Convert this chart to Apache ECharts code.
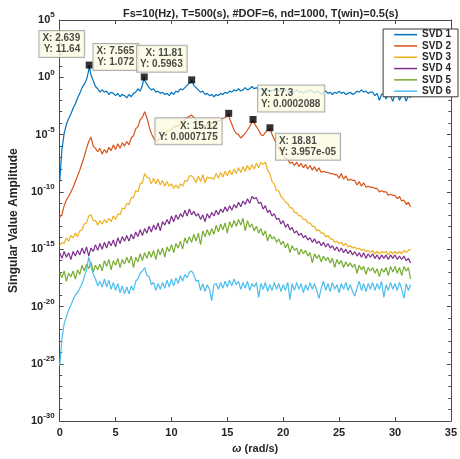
<!DOCTYPE html>
<html>
<head>
<meta charset="utf-8">
<script src="https://cdn.jsdelivr.net/npm/echarts@6/dist/echarts.min.js"></script>
<style>
  html, body { margin: 0; padding: 0; background: #fff; }
  #chart { width: 460px; height: 459px; }
</style>
</head>
<body>
<div id="chart"></div>
<script>
// Frequency grid (rad/s)
const omega = [
  0.0, 0.2, 0.4, 0.6, 0.8, 1.0, 1.2, 1.4, 1.6, 1.8,
  2.0, 2.2, 2.4, 2.6, 2.8, 3.0, 3.2, 3.4, 3.6, 3.8,
  4.0, 4.2, 4.4, 4.6, 4.8, 5.0, 5.2, 5.4, 5.6, 5.8,
  6.0, 6.2, 6.4, 6.6, 6.8, 7.0, 7.2, 7.4, 7.6, 7.8,
  8.0, 8.2, 8.4, 8.6, 8.8, 9.0, 9.2, 9.4, 9.6, 9.8,
  10.0, 10.2, 10.4, 10.6, 10.8, 11.0, 11.2, 11.4, 11.6, 11.8,
  12.0, 12.2, 12.4, 12.6, 12.8, 13.0, 13.2, 13.4, 13.6, 13.8,
  14.0, 14.2, 14.4, 14.6, 14.8, 15.0, 15.2, 15.4, 15.6, 15.8,
  16.0, 16.2, 16.4, 16.6, 16.8, 17.0, 17.2, 17.4, 17.6, 17.8,
  18.0, 18.2, 18.4, 18.6, 18.8, 19.0, 19.2, 19.4, 19.6, 19.8,
  20.0, 20.2, 20.4, 20.6, 20.8, 21.0, 21.2, 21.4, 21.6, 21.8,
  22.0, 22.2, 22.4, 22.6, 22.8, 23.0, 23.2, 23.4, 23.6, 23.8,
  24.0, 24.2, 24.4, 24.6, 24.8, 25.0, 25.2, 25.4, 25.6, 25.8,
  26.0, 26.2, 26.4, 26.6, 26.8, 27.0, 27.2, 27.4, 27.6, 27.8,
  28.0, 28.2, 28.4, 28.6, 28.8, 29.0, 29.2, 29.4, 29.6, 29.8,
  30.0, 30.2, 30.4, 30.6, 30.8, 31.0, 31.2, 31.4
];

// Singular values, stored as log10(amplitude) on the grid above
const svd1Log10 = [
  -9.1, -6.3, -4.9, -4.1, -3.6, -3.2, -2.7, -2.3, -1.8, -1.4,
  -0.9, -0.6, -0.2, 0.6, 0.2, -0.3, -0.8, -1.0, -1.3, -1.1,
  -1.3, -1.2, -1.5, -1.3, -1.4, -1.6, -1.4, -1.7, -1.5, -1.6,
  -1.8, -1.5, -1.7, -1.4, -1.3, -1.0, -1.2, -0.7, -0.3, -0.6,
  -0.9, -1.1, -1.0, -1.3, -1.2, -1.4, -1.3, -1.5, -1.4, -1.6,
  -1.3, -1.5, -1.2, -1.3, -1.0, -1.1, -0.9, -0.7, -0.5, -0.4,
  -0.7, -0.9, -1.1, -1.3, -1.2, -1.5, -1.4, -1.6, -1.5, -1.7,
  -1.5, -1.6, -1.4, -1.5, -1.3, -1.4, -1.2, -1.3, -1.1, -1.2,
  -1.0, -1.2, -1.1, -0.9, -1.1, -1.0, -0.8, -1.0, -0.9, -1.1,
  -1.0, -1.2, -1.0, -1.1, -1.3, -1.1, -1.2, -1.0, -1.2, -1.1,
  -1.3, -1.1, -1.2, -1.4, -1.2, -1.3, -1.1, -1.3, -1.2, -1.4,
  -1.2, -1.3, -1.1, -1.2, -1.4, -1.2, -1.3, -1.5, -1.3, -1.2,
  -1.4, -1.3, -1.5, -1.3, -1.4, -1.2, -1.4, -1.3, -1.5, -1.4,
  -1.3, -1.5, -1.4, -1.2, -1.3, -1.1, -1.3, -1.2, -1.4, -1.3,
  -1.3, -1.6, -1.4, -2.0, -1.5, -1.4, -1.9, -1.5, -1.6, -2.1,
  -1.5, -1.4, -2.0, -1.6, -1.5, -2.1, -1.6, -1.8
];
const svd2Log10 = [
  -12.2, -12.0, -11.2, -10.7, -10.4, -10.0, -9.6, -9.1, -8.6, -8.1,
  -7.5, -6.9, -6.2, -5.6, -5.2, -6.0, -6.2, -6.5, -6.2, -6.7,
  -6.3, -6.6, -6.1, -6.4, -5.9, -6.3, -5.8, -6.2, -5.7, -6.0,
  -5.6, -5.9, -5.3, -5.1, -4.5, -4.3, -3.7, -3.5, -3.0, -3.5,
  -4.3, -4.9, -5.3, -5.6, -5.5, -5.3, -5.1, -4.9, -4.7, -4.6,
  -4.5, -4.4, -4.2, -4.3, -4.0, -3.9, -3.6, -3.5, -3.4, -3.3,
  -3.5, -3.7, -3.9, -4.1, -4.2, -4.3, -4.1, -4.2, -4.0, -3.9,
  -3.9, -3.8, -3.7, -3.6, -3.5, -3.4, -3.6, -4.1, -4.6, -4.9,
  -5.0, -5.3, -5.1, -4.9, -4.6, -4.3, -3.9, -4.0, -4.3, -4.6,
  -5.0, -5.1, -4.8, -4.6, -4.6, -5.0, -5.4, -5.8, -6.2, -6.5,
  -6.8, -7.1, -7.1, -7.5, -7.4, -7.7, -7.4, -7.8, -7.5, -7.9,
  -7.6, -8.0, -7.7, -8.1, -7.8, -8.2, -7.9, -8.3, -8.2, -8.3,
  -8.3, -8.4, -8.4, -8.5, -8.5, -8.8, -8.4, -8.9, -8.6, -9.0,
  -8.9, -9.0, -9.0, -9.4, -9.1, -9.5, -9.2, -9.6, -9.5, -9.6,
  -9.6, -9.7, -9.7, -10.0, -9.9, -10.0, -10.0, -10.3, -10.2, -10.3,
  -10.3, -10.6, -10.4, -10.8, -10.7, -11.1, -10.9, -11.3
];
const svd3Log10 = [
  -14.7, -14.4, -14.5, -14.0, -14.3, -13.8, -14.0, -13.6, -13.9, -13.4,
  -13.3, -12.8, -12.7, -12.1, -12.0, -12.5, -12.5, -12.9, -12.5, -12.8,
  -12.4, -12.7, -12.3, -12.6, -12.1, -12.4, -11.9, -12.0, -11.4, -11.5,
  -11.0, -11.1, -10.5, -10.5, -9.9, -10.0, -9.3, -9.2, -8.4, -8.7,
  -8.8, -9.3, -8.8, -9.3, -8.9, -9.4, -9.0, -9.5, -9.1, -9.5,
  -9.3, -9.7, -9.4, -9.7, -9.3, -9.5, -9.0, -9.1, -8.6, -8.6,
  -8.8, -9.2, -8.6, -9.1, -8.5, -9.2, -8.7, -8.8, -8.8, -8.9,
  -8.4, -8.8, -8.3, -8.7, -8.2, -8.6, -8.1, -8.5, -8.0, -8.4,
  -7.9, -8.3, -7.8, -8.2, -7.7, -8.1, -7.6, -8.0, -7.5, -7.9,
  -7.4, -7.6, -7.4, -8.1, -8.4, -9.1, -9.3, -9.9, -9.9, -10.4,
  -10.6, -10.9, -11.0, -11.4, -11.4, -11.8, -11.8, -12.1, -12.1, -12.4,
  -12.4, -12.7, -12.7, -13.0, -13.0, -13.4, -13.3, -13.6, -13.6, -13.9,
  -13.8, -14.1, -14.1, -14.4, -14.3, -14.5, -14.4, -14.7, -14.5, -14.8,
  -14.7, -14.9, -14.8, -15.0, -14.9, -15.1, -15.0, -15.2, -15.1, -15.3,
  -15.1, -15.4, -15.2, -15.4, -15.2, -15.3, -15.2, -15.5, -15.2, -15.4,
  -15.2, -15.4, -15.2, -15.4, -15.1, -15.3, -15.1, -15.0
];
const svd4Log10 = [
  -15.3, -15.8, -15.2, -15.7, -15.3, -15.9, -15.2, -15.6, -15.1, -15.5,
  -14.9, -15.4, -14.8, -15.6, -14.9, -15.2, -14.6, -15.1, -14.5, -15.0,
  -14.4, -14.9, -14.3, -14.7, -14.2, -14.8, -14.0, -14.5, -13.9, -14.3,
  -13.8, -14.3, -13.7, -14.1, -13.5, -13.9, -13.3, -13.8, -13.2, -13.6,
  -13.0, -13.5, -12.9, -13.3, -12.7, -13.4, -12.6, -12.9, -12.4, -12.8,
  -12.1, -12.6, -12.0, -12.4, -11.9, -12.2, -11.6, -12.1, -11.5, -12.0,
  -11.7, -12.1, -11.9, -12.4, -12.0, -12.6, -11.9, -12.3, -11.8, -12.1,
  -11.6, -12.0, -11.5, -11.8, -11.3, -11.7, -11.2, -11.6, -11.1, -11.4,
  -10.9, -11.3, -10.8, -11.1, -10.6, -11.0, -10.4, -10.6, -10.5, -11.0,
  -10.9, -11.5, -11.2, -11.8, -11.6, -12.1, -11.9, -12.4, -12.3, -12.8,
  -12.5, -13.1, -12.8, -13.3, -13.1, -13.6, -13.4, -13.8, -13.6, -14.0,
  -13.8, -14.2, -14.0, -14.4, -14.1, -14.5, -14.3, -14.7, -14.4, -14.8,
  -14.5, -14.9, -14.7, -15.1, -14.8, -15.2, -14.9, -15.3, -15.0, -15.4,
  -15.1, -15.5, -15.2, -15.6, -15.3, -15.7, -15.3, -15.8, -15.4, -15.7,
  -15.4, -15.8, -15.5, -15.9, -15.5, -15.8, -15.5, -15.9, -15.5, -15.8,
  -15.5, -15.9, -15.6, -15.9, -15.6, -16.0, -15.8, -16.2
];
const svd5Log10 = [
  -17.0, -17.5, -16.9, -17.8, -17.1, -17.4, -16.9, -17.6, -16.8, -17.2,
  -16.4, -16.9, -16.3, -16.7, -16.1, -17.0, -16.4, -16.8, -16.3, -16.9,
  -16.0, -16.5, -15.9, -16.8, -16.0, -16.4, -15.8, -16.6, -15.9, -16.3,
  -15.7, -16.2, -15.6, -16.6, -15.7, -16.1, -15.4, -16.0, -15.3, -15.8,
  -15.2, -15.7, -15.1, -15.9, -15.0, -15.5, -14.9, -15.7, -14.8, -15.2,
  -14.6, -15.3, -14.5, -14.9, -14.3, -15.0, -14.0, -14.5, -13.9, -14.4,
  -13.7, -14.3, -13.6, -14.6, -13.4, -13.9, -13.3, -13.8, -13.2, -13.7,
  -12.9, -13.5, -12.8, -13.3, -12.7, -13.6, -12.6, -13.1, -12.5, -13.0,
  -12.4, -12.9, -12.3, -13.4, -12.5, -13.1, -12.8, -13.4, -13.0, -13.6,
  -13.2, -13.8, -13.4, -14.3, -13.7, -14.1, -13.9, -14.4, -14.1, -14.6,
  -14.3, -14.9, -14.5, -15.3, -14.7, -15.1, -14.9, -15.5, -15.0, -15.4,
  -15.1, -15.6, -15.3, -16.2, -15.4, -15.8, -15.5, -16.1, -15.6, -16.0,
  -15.7, -16.2, -15.8, -16.6, -15.9, -16.3, -16.0, -16.6, -16.1, -16.5,
  -16.2, -16.6, -16.3, -17.1, -16.4, -16.8, -16.5, -17.2, -16.6, -16.9,
  -16.6, -17.1, -16.7, -17.4, -16.7, -17.0, -16.6, -17.3, -16.5, -17.0,
  -16.5, -17.1, -16.6, -17.3, -16.5, -16.9, -16.6, -17.6
];
const svd6Log10 = [
  -25.2, -22.8, -21.5, -20.9, -20.3, -19.9, -19.4, -19.0, -18.8, -18.4,
  -18.0, -17.4, -16.8, -15.7, -16.5, -17.2, -17.6, -18.2, -17.8, -18.3,
  -17.6, -18.3, -17.7, -18.5, -17.9, -18.6, -18.0, -18.8, -18.2, -18.9,
  -18.3, -18.9, -18.2, -18.6, -17.8, -17.6, -17.1, -16.9, -16.6, -17.3,
  -17.4, -18.1, -17.9, -18.6, -18.0, -18.5, -17.9, -18.4, -17.7, -18.3,
  -17.6, -18.2, -17.5, -18.0, -17.3, -17.8, -17.2, -17.5, -17.0, -16.9,
  -17.2, -17.8, -17.7, -18.6, -18.0, -18.7, -18.1, -18.5, -19.5, -18.1,
  -18.0, -18.5, -17.9, -18.4, -17.8, -18.3, -17.7, -18.2, -17.6, -18.1,
  -17.8, -18.5, -17.9, -18.4, -17.8, -18.6, -18.0, -18.3, -17.9, -19.2,
  -18.0, -18.5, -17.9, -18.7, -18.1, -18.6, -17.9, -18.5, -18.0, -18.7,
  -18.1, -18.6, -17.9, -19.4, -18.0, -18.6, -17.9, -18.5, -18.0, -18.8,
  -18.1, -18.6, -17.9, -18.5, -18.0, -18.6, -19.3, -18.4, -17.8, -18.6,
  -18.0, -18.7, -17.9, -18.5, -18.1, -18.8, -18.0, -18.5, -17.9, -18.6,
  -18.1, -18.7, -19.1, -18.4, -17.8, -18.6, -18.0, -18.7, -18.0, -18.5,
  -17.9, -18.6, -18.0, -18.5, -17.8, -19.2, -18.1, -18.6, -17.9, -18.5,
  -18.0, -18.6, -17.9, -18.5, -19.3, -18.0, -18.6, -18.1
];

const seriesNames = ['SVD 1', 'SVD 2', 'SVD 3', 'SVD 4', 'SVD 5', 'SVD 6'];
const seriesColors = ['#0072BD', '#D95319', '#EDB120', '#7E2F8E', '#77AC30', '#4DBEEE'];
const svdLog10 = [svd1Log10, svd2Log10, svd3Log10, svd4Log10, svd5Log10, svd6Log10];

// Data tips: location (rad/s), amplitude, and the curve they sit on
const tipX = [2.639, 7.565, 11.81, 15.12, 17.3, 18.81];
const tipY = [11.64, 1.072, 0.5963, 0.0007175, 0.0002088, 3.957e-05];
const tipOwner = [0, 0, 0, 1, 1, 1];

// Where each tip box sits relative to its marker
const tipPlacement = [
  { align: 'right', verticalAlign: 'bottom', offset: [-5, -8] },
  { align: 'right', verticalAlign: 'bottom', offset: [-6, -7] },
  { align: 'right', verticalAlign: 'bottom', offset: [-5, -8] },
  { align: 'right', verticalAlign: 'top', offset: [-7, 5] },
  { align: 'left', verticalAlign: 'bottom', offset: [5, -8] },
  { align: 'left', verticalAlign: 'top', offset: [6, 6] }
];

function matlabNum(v) {
  if (Math.abs(v) < 1e-4) {
    const parts = v.toExponential(3).split('e');
    const n = parseInt(parts[1], 10);
    return parts[0] + 'e' + (n < 0 ? '-' : '+') + String(Math.abs(n)).padStart(2, '0');
  }
  return String(Number(v.toPrecision(4)));
}

function curvePoints(k) {
  const pts = omega.map((w, i) => [w, svdLog10[k][i]]);
  tipX.forEach((x, j) => {
    if (tipOwner[j] === k) pts.push([x, Math.log10(tipY[j])]);
  });
  pts.sort((a, b) => a[0] - b[0]);
  return pts;
}

const FONT = '"Liberation Sans", Arial, Helvetica, sans-serif';
const AXIS_COLOR = '#4a4a4a';
const TEXT_COLOR = '#262626';

const lineSeries = seriesNames.map((name, k) => ({
  type: 'line',
  name: name,
  data: curvePoints(k),
  showSymbol: false,
  symbol: 'none',
  lineStyle: { width: 1.2, color: seriesColors[k] },
  itemStyle: { color: seriesColors[k] },
  z: 2,
  animation: false
}));

const tipSeries = {
  type: 'scatter',
  name: 'datatips',
  z: 6,
  silent: true,
  animation: false,
  symbol: 'rect',
  symbolSize: 7,
  itemStyle: { color: '#000' },
  data: tipX.map((x, j) => ({
    value: [x, Math.log10(tipY[j])],
    label: tipPlacement[j]
  })),
  label: {
    show: true,
    position: 'inside',
    formatter: p => 'X: ' + matlabNum(tipX[p.dataIndex]) + '\nY: ' + matlabNum(tipY[p.dataIndex]),
    fontFamily: FONT,
    fontSize: 10,
    fontWeight: 'bold',
    lineHeight: 11,
    color: '#1a1a1a',
    backgroundColor: '#FBFBE3',
    borderColor: '#9a9a9a',
    borderWidth: 1,
    padding: [2, 4, 2, 3]
  }
};

const expLabel = {
  formatter: v => '{b|10}{e|' + v + '}',
  rich: {
    b: { fontFamily: FONT, fontSize: 11, fontWeight: 'bold', color: TEXT_COLOR, lineHeight: 18 },
    e: { fontFamily: FONT, fontSize: 8, fontWeight: 'bold', color: TEXT_COLOR, verticalAlign: 'top' }
  },
  margin: 5
};

const frameLine = { show: true, onZero: false, lineStyle: { color: AXIS_COLOR, width: 1 } };
const majorTick = { show: true, inside: true, length: 4, lineStyle: { color: AXIS_COLOR } };
const decadeTick = { show: true, splitNumber: 5, length: 2.5, lineStyle: { color: AXIS_COLOR } };

const chart = echarts.init(document.getElementById('chart'), null, { renderer: 'canvas' });
chart.setOption({
  animation: false,
  backgroundColor: '#fff',
  title: {
    text: 'Fs=10(Hz), T=500(s), #DOF=6, nd=1000, T(win)=0.5(s)',
    left: 118,
    top: 3,
    textStyle: { fontFamily: FONT, fontSize: 11, fontWeight: 'bold', color: TEXT_COLOR }
  },
  grid: { left: 56, right: 2, top: 20, bottom: 34, containLabel: false },
  legend: {
    data: seriesNames,
    orient: 'vertical',
    right: 2,
    top: 29,
    icon: 'rect',
    itemWidth: 23,
    itemHeight: 1.5,
    itemGap: 0,
    padding: [0, 7, 0, 11],
    backgroundColor: '#fff',
    borderColor: '#3a3a3a',
    borderWidth: 1,
    selectedMode: false,
    textStyle: { fontFamily: FONT, fontSize: 10, fontWeight: 'bold', color: TEXT_COLOR, lineHeight: 11.3 }
  },
  xAxis: [
    {
      type: 'value', min: 0, max: 35, interval: 5,
      name: '{w|ω} (rad/s)',
      nameLocation: 'middle',
      nameGap: 18,
      nameTextStyle: {
        fontFamily: FONT, fontSize: 11, fontWeight: 'bold', color: TEXT_COLOR,
        rich: { w: { fontFamily: FONT, fontSize: 11, fontStyle: 'italic', color: TEXT_COLOR } }
      },
      axisLine: frameLine,
      axisTick: majorTick,
      axisLabel: { fontFamily: FONT, fontSize: 11, fontWeight: 'bold', color: TEXT_COLOR, margin: 6 },
      splitLine: { show: false }
    },
    {
      type: 'value', min: 0, max: 35, interval: 5, position: 'top',
      axisLine: frameLine,
      axisTick: majorTick,
      axisLabel: { show: false },
      splitLine: { show: false }
    }
  ],
  yAxis: [
    {
      type: 'value', min: -30, max: 5, interval: 5,
      name: 'Singular Value Amplitude',
      nameLocation: 'middle',
      nameGap: 31,
      nameTextStyle: { fontFamily: FONT, fontSize: 12, fontWeight: 'bold', color: TEXT_COLOR },
      axisLine: frameLine,
      axisTick: majorTick,
      minorTick: decadeTick,
      axisLabel: expLabel,
      splitLine: { show: false }
    },
    {
      type: 'value', min: -30, max: 5, interval: 5, position: 'right',
      axisLine: frameLine,
      axisTick: majorTick,
      minorTick: decadeTick,
      axisLabel: { show: false },
      splitLine: { show: false }
    }
  ],
  series: lineSeries.concat([tipSeries])
});
</script>
</body>
</html>
